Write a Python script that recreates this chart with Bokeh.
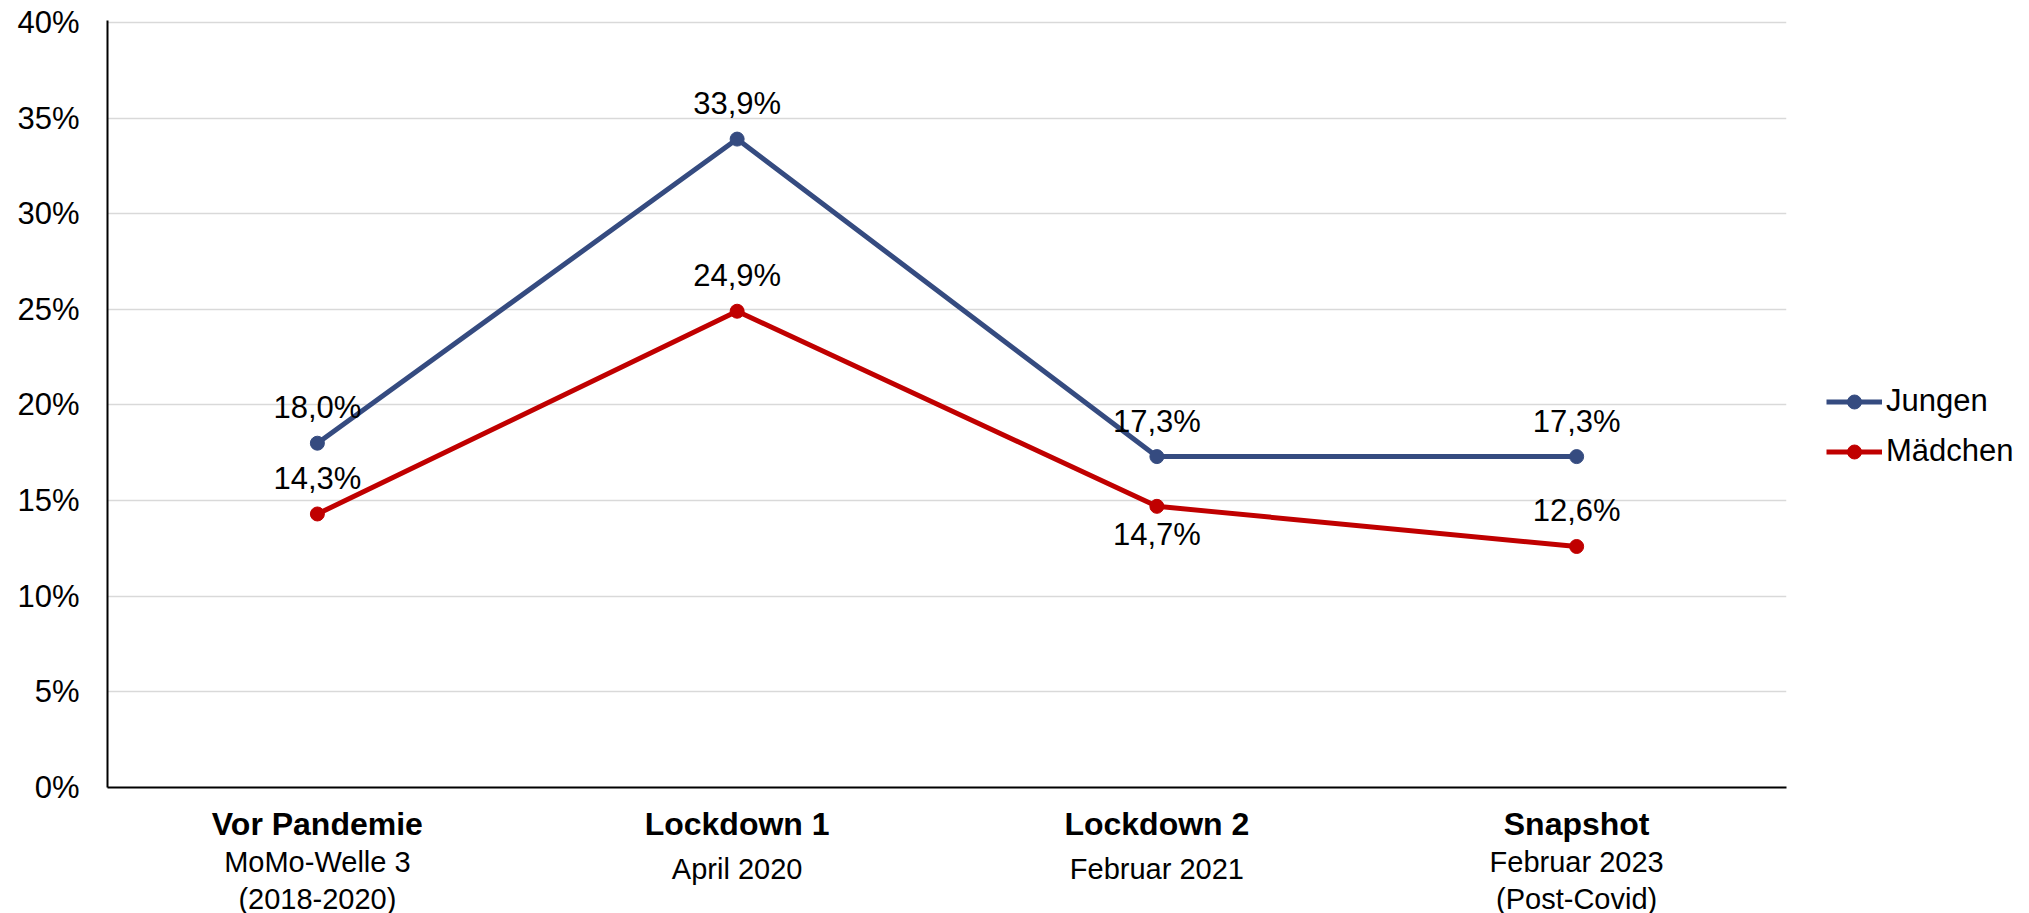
from bokeh.plotting import figure
from bokeh.layouts import row
from bokeh.models import (ColumnDataSource, FixedTicker, LabelSet, Legend,
                          LegendItem, LinearAxis, Range1d)
from bokeh.core.properties import value
from bokeh.embed import file_html
from bokeh.resources import INLINE

# Phases of the survey (x categories) and their captions
phases = ["Vor Pandemie", "Lockdown 1", "Lockdown 2", "Snapshot"]
captions = [["MoMo-Welle 3", "(2018-2020)"],
            ["April 2020"],
            ["Februar 2021"],
            ["Februar 2023", "(Post-Covid)"]]

# Share in percent per group
jungen = [18.0, 33.9, 17.3, 17.3]
maedchen = [14.3, 24.9, 14.7, 12.6]

# Where each value label sits relative to its point
jungen_pos = ["above", "above", "above", "above"]
maedchen_pos = ["above", "above", "below", "above"]

y_ticks = [0, 5, 10, 15, 20, 25, 30, 35, 40]

FONT = "Liberation Sans"
BLUE = "#354B80"
RED = "#C00000"


def pct(v):
    return f"{v:.1f}%".replace(".", ",")


# each phase occupies one unit band; marks sit in the band centre
xpos = [i + 0.5 for i in range(len(phases))]

p = figure(frame_width=1679, frame_height=767,
           x_range=Range1d(0, len(phases)), y_range=(0, 40.1),
           output_backend="svg", toolbar_location=None,
           min_border_left=107, min_border_right=14,
           min_border_top=20, min_border_bottom=126)
p.outline_line_color = None
p.background_fill_color = "white"
p.border_fill_color = "white"

# grid
p.xgrid.grid_line_color = None
p.ygrid.grid_line_color = "#d9d9d9"
p.ygrid.grid_line_width = 1.5

# y axis
p.yaxis.ticker = FixedTicker(ticks=y_ticks)
p.yaxis.major_label_overrides = {t: f"{t}%" for t in y_ticks}
p.yaxis.axis_line_color = "black"
p.yaxis.axis_line_width = 2
p.yaxis.major_tick_line_color = None
p.yaxis.major_tick_out = 0
p.yaxis.major_tick_in = 0
p.yaxis.minor_tick_line_color = None
p.yaxis.major_label_standoff = 28
p.yaxis.major_label_text_font = FONT
p.yaxis.major_label_text_font_size = "31px"
p.yaxis.major_label_text_color = "black"

# x axis (bold phase names)
p.xaxis.ticker = FixedTicker(ticks=xpos)
p.xaxis.major_label_overrides = dict(zip(xpos, phases))
p.xaxis.axis_line_color = "black"
p.xaxis.axis_line_width = 2
p.xaxis.major_tick_line_color = None
p.xaxis.major_tick_out = 0
p.xaxis.major_tick_in = 0
p.xaxis.minor_tick_line_color = None
p.xaxis.major_label_standoff = 18
p.xaxis.major_label_text_font = FONT
p.xaxis.major_label_text_font_style = "bold"
p.xaxis.major_label_text_font_size = "32px"
p.xaxis.major_label_text_color = "black"

# caption rows under the phase names
first_lines = {c: (t[0] if len(t) == 2 else "") for c, t in zip(xpos, captions)}
single_lines = {c: (t[0] if len(t) == 1 else "") for c, t in zip(xpos, captions)}
second_lines = {c: (t[1] if len(t) == 2 else "") for c, t in zip(xpos, captions)}

for overrides, standoff in ((first_lines, 1), (single_lines, -28),
                            (second_lines, -5)):
    ax = LinearAxis(ticker=FixedTicker(ticks=xpos),
                    axis_line_color=None, major_tick_line_color=None,
                    minor_tick_line_color=None, major_tick_out=0,
                    major_tick_in=0, major_label_standoff=standoff,
                    major_label_text_font=FONT,
                    major_label_text_font_size="29px",
                    major_label_text_color="black",
                    major_label_overrides=overrides)
    p.add_layout(ax, "below")

src_j = ColumnDataSource(dict(x=xpos, y=jungen))
src_m = ColumnDataSource(dict(x=xpos, y=maedchen))

p.line("x", "y", source=src_j, line_color=BLUE, line_width=5)
p.scatter("x", "y", source=src_j, size=14, fill_color=BLUE, line_color=BLUE)
p.line("x", "y", source=src_m, line_color=RED, line_width=5)
p.scatter("x", "y", source=src_m, size=14, fill_color=RED, line_color=RED)


def value_labels(xs, ys, pos):
    for where in ("above", "below"):
        idx = [i for i, q in enumerate(pos) if q == where]
        if not idx:
            continue
        s = ColumnDataSource(dict(x=[xs[i] for i in idx],
                                  y=[ys[i] for i in idx],
                                  t=[pct(ys[i]) for i in idx]))
        p.add_layout(LabelSet(x="x", y="y", text="t", source=s,
                              y_offset=25 if where == "above" else -39,
                              text_align="center", text_baseline="alphabetic",
                              text_font=value(FONT), text_font_size="31px",
                              text_color="black"))


value_labels(xpos, jungen, jungen_pos)
value_labels(xpos, maedchen, maedchen_pos)

# legend panel to the right of the chart; its series lie outside its view
lg = figure(width=229, height=913, x_range=(-10, -9), y_range=(-10, -9),
            output_backend="svg", toolbar_location=None,
            x_axis_location=None, y_axis_location=None,
            min_border=0)
lg.grid.visible = False
lg.outline_line_color = None
lg.background_fill_color = "white"
lg.border_fill_color = "white"
kj = lg.line(x=xpos, y=jungen, line_color=BLUE, line_width=5)
kjm = lg.scatter(x=xpos, y=jungen, size=14, fill_color=BLUE, line_color=BLUE)
km = lg.line(x=xpos, y=maedchen, line_color=RED, line_width=5)
kmm = lg.scatter(x=xpos, y=maedchen, size=14, fill_color=RED, line_color=RED)
legend = Legend(items=[LegendItem(label="Jungen", renderers=[kj, kjm]),
                       LegendItem(label="Mädchen", renderers=[km, kmm])],
                location=(26, 307), orientation="vertical",
                padding=0, margin=0, spacing=0,
                glyph_width=56, glyph_height=35, label_height=50,
                label_standoff=4, border_line_color=None,
                background_fill_alpha=0,
                label_text_font=FONT, label_text_font_size="31px",
                label_text_color="black")
lg.add_layout(legend, "center")

layout = row(p, lg, spacing=0)
open("out.html", "w").write(file_html(layout, INLINE))
